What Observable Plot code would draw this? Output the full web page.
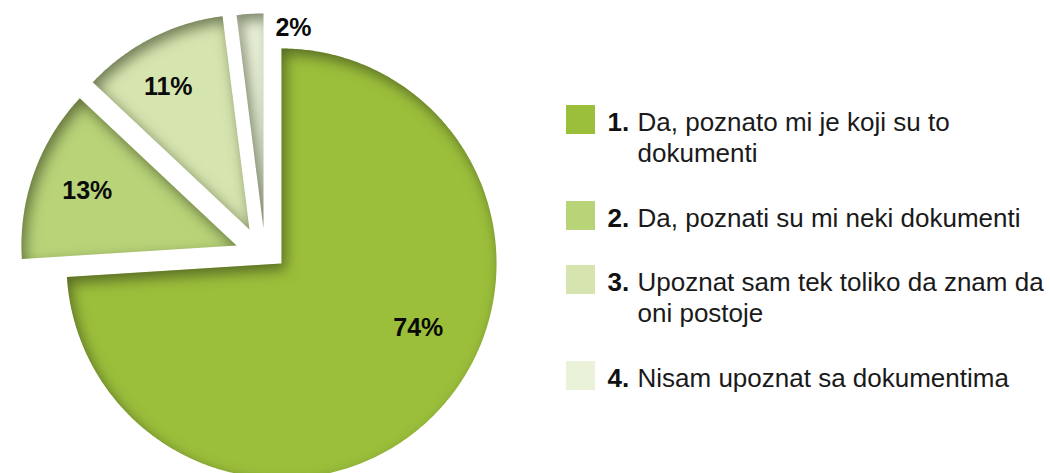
<!DOCTYPE html>
<html><head><meta charset="utf-8">
<script src="https://cdn.jsdelivr.net/npm/d3@7"></script>
<script src="https://cdn.jsdelivr.net/npm/@observablehq/plot@0.6"></script>
<style>body{margin:0;background:#fff;} #chart{width:1050px;height:473px;overflow:hidden;}</style>
</head><body><div id="chart"></div>
<script>
// ---- data ----
const categories = [
  "Da, poznato mi je koji su to dokumenti",
  "Da, poznati su mi neki dokumenti",
  "Upoznat sam tek toliko da znam da oni postoje",
  "Nisam upoznat sa dokumentima"
];
const numbers = ["1.", "2.", "3.", "4."];
const values = [74, 13, 11, 2];
const valueLabels = ["74%", "13%", "11%", "2%"];
const colors = ["#9bbf3b", "#b8d378", "#d6e5b0", "#eaf2d9"];

// ---- layout ----
const W = 1050, H = 473;
const center = [281, 263], radius = 215;
const explode = [[0, 0], [48.5, 291.8], [46.7, 316.7], [39.4, 332.8]]; // [distance, deg clockwise from top]
const labelPolar = [[115.1, 151], [290.2, 159], [330.3, 164], [8.5, 203]];
const font = "'Liberation Sans', Arial, Helvetica, sans-serif";
const legendFontSize = 26, legendLine = 32, legendMaxWidth = 415;
const lh = legendLine / legendFontSize;

const rad = d => d * Math.PI / 180;
const arcs = d3.pie().sort(null).value(d => d)(values);

const slicePoints = [];
const apexes = [];
arcs.forEach((a, i) => {
  const [dist, dir] = explode[i];
  const ax = center[0] + dist * Math.sin(rad(dir));
  const ay = center[1] - dist * Math.cos(rad(dir));
  apexes.push([ax, ay]);
  slicePoints.push({cat: categories[i], x: ax, y: ay});
  const n = Math.max(2, Math.ceil((a.endAngle - a.startAngle) / rad(0.5)));
  for (let k = 0; k <= n; k++) {
    const t = a.startAngle + (a.endAngle - a.startAngle) * k / n;
    slicePoints.push({cat: categories[i], x: ax + radius * Math.sin(t), y: ay - radius * Math.cos(t)});
  }
});

const pieLabels = valueLabels.map((t, i) => {
  const [ang, r] = labelPolar[i];
  return {text: t, x: apexes[i][0] + r * Math.sin(rad(ang)), y: apexes[i][1] - r * Math.cos(rad(ang))};
});

// wrap legend labels using real text metrics
const ctx = document.createElement("canvas").getContext("2d");
ctx.font = `${legendFontSize}px ${font}`;
function wrap(s) {
  const words = s.split(" "); const lines = []; let cur = "";
  for (const w of words) {
    const test = cur ? cur + " " + w : w;
    if (cur && ctx.measureText(test).width > legendMaxWidth) { lines.push(cur); cur = w; }
    else cur = test;
  }
  lines.push(cur);
  return lines;
}
const legend = [];
let baseline = 130;
categories.forEach((c, i) => {
  const lines = wrap(c);
  legend.push({cat: c, num: numbers[i], text: lines.join("\n"), base: baseline});
  baseline += legendLine * lines.length + 32;
});
const topOf = d => d.base - 0.71 * legendLine;

const chart = Plot.plot({
  width: W, height: H,
  margin: 0,
  style: {fontFamily: font, background: "transparent", overflow: "hidden"},
  x: {domain: [0, W], range: [0, W], axis: null},
  y: {domain: [0, H], range: [0, H], axis: null},
  color: {domain: categories, range: colors},
  marks: [
    Plot.line(slicePoints, {x: "x", y: "y", z: "cat", fill: "cat", stroke: "none", curve: "linear-closed"}),
    Plot.text(pieLabels, {x: "x", y: "y", text: "text", fontSize: 25, fontWeight: "bold", fill: "#0a0a0a"}),
    Plot.rect(legend, {x1: 566, x2: 595, y1: d => d.base - 25, y2: d => d.base + 4, fill: "cat"}),
    Plot.text(legend, {x: 607, y: topOf, text: "num", textAnchor: "start", lineAnchor: "top", fontSize: legendFontSize, lineHeight: lh, fontWeight: "bold", fill: "#111"}),
    Plot.text(legend, {x: 637, y: topOf, text: "text", textAnchor: "start", lineAnchor: "top", fontSize: legendFontSize, lineHeight: lh, fill: "#1a1a1a"})
  ]
});

// inner shadow filter for slices
const ns = "http://www.w3.org/2000/svg";
const defs = document.createElementNS(ns, "defs");
defs.innerHTML = `
<filter id="inset" x="-30%" y="-30%" width="160%" height="160%" color-interpolation-filters="sRGB">
  <feComponentTransfer in="SourceAlpha" result="inv"><feFuncA type="table" tableValues="1 0"/></feComponentTransfer>
  <feOffset in="inv" dx="4" dy="6" result="off"/>
  <feGaussianBlur in="off" stdDeviation="7" result="blur"/>
  <feFlood flood-color="#2c3318" flood-opacity="0.6" result="col"/>
  <feComposite in="col" in2="blur" operator="in" result="shadow"/>
  <feComposite in="shadow" in2="SourceAlpha" operator="in" result="inner"/>
  <feMerge><feMergeNode in="SourceGraphic"/><feMergeNode in="inner"/></feMerge>
</filter>`;
chart.insertBefore(defs, chart.firstChild);
chart.querySelectorAll('g[aria-label="line"] path').forEach(p => p.setAttribute("filter", "url(#inset)"));

document.getElementById("chart").appendChild(chart);
</script>
</body></html>
